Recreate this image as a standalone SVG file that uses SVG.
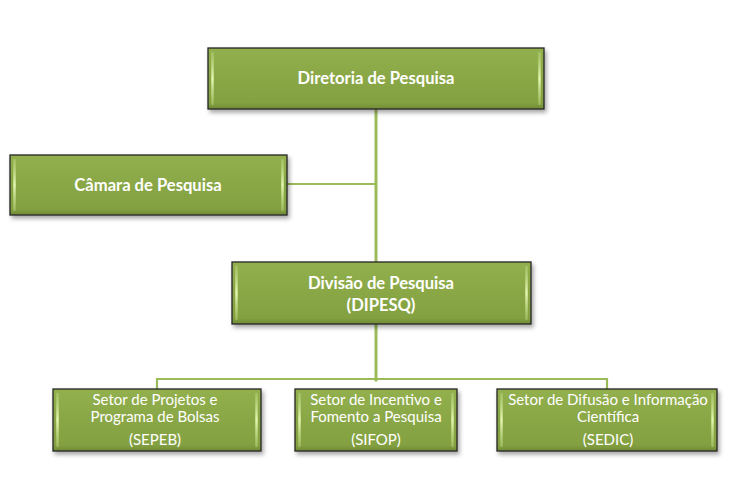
<svg xmlns="http://www.w3.org/2000/svg" width="749" height="482" viewBox="0 0 749 482">
<defs>
<linearGradient id="fillg" x1="0" y1="0" x2="0" y2="1">
<stop offset="0" stop-color="#93b04f"/>
<stop offset="0.5" stop-color="#8aa746"/>
<stop offset="0.9" stop-color="#84a142"/>
<stop offset="1" stop-color="#6f8a35"/>
</linearGradient>
<linearGradient id="hl" x1="0" y1="0" x2="0" y2="1">
<stop offset="0" stop-color="#c8e08c" stop-opacity="0.4"/>
<stop offset="0.5" stop-color="#e2f7b0"/>
<stop offset="1" stop-color="#c8e08c" stop-opacity="0.4"/>
</linearGradient>
<filter id="sh" x="-10%" y="-20%" width="125%" height="150%">
<feDropShadow dx="2" dy="3" stdDeviation="2" flood-color="#000" flood-opacity="0.35"/>
</filter>
</defs>
<style>
.box{fill:url(#fillg);stroke:#262626;stroke-width:1.3;filter:url(#sh)}
.edge{fill:none;stroke:url(#hl);stroke-width:2.5;stroke-linecap:round}
.conn{fill:none;stroke:#9bbb59;stroke-linecap:square}
.tb{font-family:Lato,"Open Sans","Liberation Sans",sans-serif;font-weight:bold;font-size:16.6px;fill:#ffffff;text-anchor:middle}
.tr{font-family:Lato,"Open Sans","Liberation Sans",sans-serif;font-size:15px;fill:#ffffff;text-anchor:middle}
</style>
<rect width="749" height="482" fill="#ffffff"/>
<g id="connectors">
<path class="conn" stroke-width="3" d="M376 110 V262 M376 324 V380"/>
<path class="conn" stroke-width="2.2" d="M288 184 H376"/>
<path class="conn" stroke-width="2.2" d="M157 389 V379 H607 V389"/>
</g>
<g id="diretoria">
<rect class="box" x="208" y="48" width="336" height="61"/>
<path class="edge" d="M212.5 53 V104 M539.5 53 V104"/>
<text class="tb" x="376" y="84">Diretoria de Pesquisa</text>
</g>
<g id="camara">
<rect class="box" x="10" y="155" width="277" height="60"/>
<path class="edge" d="M14.5 160 V210 M282.5 160 V210"/>
<text class="tb" x="148" y="191">Câmara de Pesquisa</text>
</g>
<g id="dipesq">
<rect class="box" x="232" y="262" width="299" height="62"/>
<path class="edge" d="M236.5 267 V319 M526.5 267 V319"/>
<text class="tb" x="381" y="289">Divisão de Pesquisa</text>
<text class="tb" x="381" y="311">(DIPESQ)</text>
</g>
<g id="sepeb">
<rect class="box" x="53" y="389" width="208" height="62"/>
<path class="edge" d="M57.5 394 V446 M256.5 394 V446"/>
<text class="tr" x="155" y="405">Setor de Projetos e</text>
<text class="tr" x="155" y="422">Programa de  Bolsas</text>
<text class="tr" x="155" y="445">(SEPEB)</text>
</g>
<g id="sifop">
<rect class="box" x="295" y="389" width="162" height="62"/>
<path class="edge" d="M299.5 394 V446 M452.5 394 V446"/>
<text class="tr" x="376" y="405">Setor de Incentivo e</text>
<text class="tr" x="376" y="422">Fomento a Pesquisa</text>
<text class="tr" x="376" y="445">(SIFOP)</text>
</g>
<g id="sedic">
<rect class="box" x="497" y="389" width="220" height="62"/>
<path class="edge" d="M501.5 394 V446 M712.5 394 V446"/>
<text class="tr" x="608" y="405">Setor de Difusão e Informação</text>
<text class="tr" x="608" y="422">Científica</text>
<text class="tr" x="608" y="445">(SEDIC)</text>
</g>
</svg>
